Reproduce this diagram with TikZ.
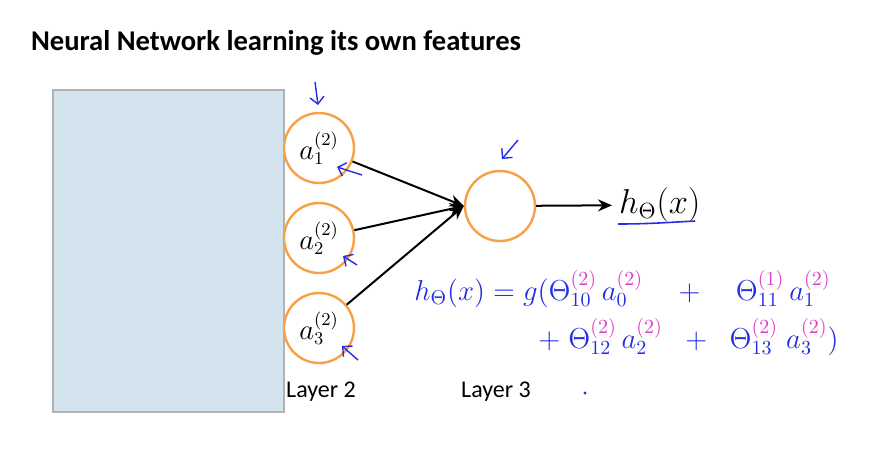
\documentclass[tikz,border=0pt]{standalone}
\usepackage{fontspec}
\setsansfont{Carlito}
\usetikzlibrary{arrows.meta}
\definecolor{unitorange}{RGB}{247,160,70}
\definecolor{boxblue}{RGB}{211,228,238}
\definecolor{penblue}{RGB}{35,45,225}
\definecolor{penpink}{RGB}{225,60,200}
\newcommand{\pk}[1]{{\color{penpink}#1}}

\begin{document}
\begin{tikzpicture}[x=0.5pt,y=-0.5pt,
  unit/.style={draw=unitorange, line width=1.2pt, circle, minimum size=35pt, inner sep=0pt, font=\fontsize{13.5}{15}\selectfont},
  link/.style={-{Stealth[length=7pt,width=6pt]}, line width=1pt},
  pen/.style={-{Straight Barb[length=3.5pt,width=7pt]}, penblue, line width=0.7pt},
  layerlbl/.style={font=\sffamily\fontsize{12}{14}\selectfont},
  handeq/.style={anchor=base west, text=penblue, inner sep=0pt, font=\fontsize{14.5}{17}\selectfont}]
  \useasboundingbox (0,0) rectangle (887,452);
  % title and the covered part of the network
  \node[anchor=west, font=\sffamily\bfseries\fontsize{14.3}{17}\selectfont] (title) at (24,43) {Neural Network learning its own features};
  \node[draw=black!30, fill=boxblue, line width=1pt, minimum width=115.5pt, minimum height=161pt, inner sep=0pt] (cover) at (168.5,251) {};
  % layer 2 and layer 3
  \node[unit] (a1) at (319,148) {$a_1^{(2)}$};
  \node[unit] (a2) at (319,238) {$a_2^{(2)}$};
  \node[unit] (a3) at (319,328) {$a_3^{(2)}$};
  \node[unit] (out) at (500,206) {};
  \node[anchor=west, font=\fontsize{16}{18}\selectfont] (h) at (612,205) {$h_\Theta(x)$};
  \node[layerlbl] (l2) at (321,392) {Layer 2};
  \node[layerlbl] (l3) at (496,392) {Layer 3};
  \foreach \i in {1,2,3}
    \draw[link] (a\i) -- (out.west);
  \draw[link] (out) -- (h);
  % pen notes
  \coordinate (u1) at (618,224); \coordinate (u2) at (695,221);
  \draw[penblue, line width=0.8pt] (u1) .. controls (650,224) and (675,222) .. (u2);
  \coordinate (t0) at (315,82);  \coordinate (p0) at (318,105);
  \coordinate (t1) at (362,175); \coordinate (p1) at (337,167);
  \coordinate (t2) at (357,265); \coordinate (p2) at (343,256);
  \coordinate (t3) at (358,360); \coordinate (p3) at (342,346);
  \coordinate (t4) at (518,140); \coordinate (p4) at (502,159);
  \foreach \i in {0,...,4}
    \draw[pen] (t\i) -- (p\i);
  \fill[penblue] (585,393) circle (0.8pt);
  \node[handeq] (eq1) at (414,300) {$h_\Theta(x) = g(\Theta^{\pk{(2)}}_{10}\,a^{\pk{(2)}}_0 \quad+\quad \Theta^{\pk{(1)}}_{11}\,a^{\pk{(2)}}_1$};
  \node[handeq] (eq2) at (538,348) {$+\;\Theta^{\pk{(2)}}_{12}\,a^{\pk{(2)}}_2 \;\;+\;\; \Theta^{\pk{(2)}}_{13}\;a^{\pk{(2)}}_3)$};
\end{tikzpicture}
\end{document}
